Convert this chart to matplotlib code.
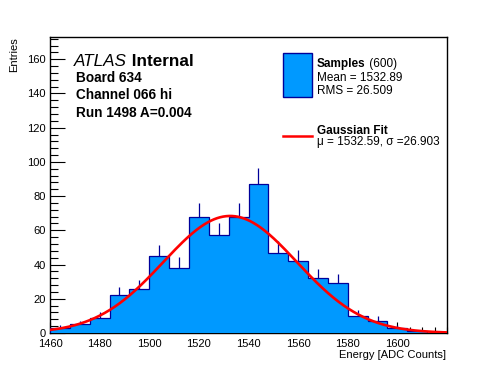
import numpy as np
import matplotlib
matplotlib.use("Agg")
import matplotlib.pyplot as plt
from matplotlib.patches import Rectangle
from matplotlib.lines import Line2D
from matplotlib.ticker import MultipleLocator, FixedLocator

plt.rcParams['font.family'] = ['Liberation Sans', 'DejaVu Sans']

# histogram data (bins of 8 ADC counts)
bin_edges = np.arange(1460, 1621, 8)
counts = [3, 5, 9, 22, 26, 45, 38, 68, 57, 68, 87, 47, 42, 32, 29, 10, 7, 3, 1, 0]

# gaussian fit parameters
fit_const = 68.4
fit_mean = 1532.59
fit_sigma = 26.903

x_ticks = [1460, 1480, 1500, 1520, 1540, 1560, 1580, 1600]
board_lines = ["Board 634", "Channel 066 hi", "Run 1498 A=0.004"]

W, H = 496, 372
fill_col = '#0099ff'
edge_col = '#000099'

fig = plt.figure(figsize=(W / 100, H / 100), dpi=100)
ax = fig.add_axes([50 / W, 1 - 333 / H, 397 / W, 296 / H])

counts = np.array(counts, dtype=float)
centers = 0.5 * (bin_edges[:-1] + bin_edges[1:])

# errors (only the part above the bin is visible)
err = np.sqrt(counts)
ax.vlines(centers, counts, counts + err, color=edge_col, lw=0.9, zorder=2)
ax.stairs(counts, bin_edges, fill=True, color=fill_col, zorder=3)
ax.stairs(counts, bin_edges, color=edge_col, lw=0.9, zorder=4)

xf = np.linspace(1460, 1620, 400)
yf = fit_const * np.exp(-0.5 * ((xf - fit_mean) / fit_sigma) ** 2)
ax.plot(xf, yf, color='red', lw=1.9, zorder=5)

ax.set_xlim(1460, 1620)
ax.set_ylim(0, 173)
ax.xaxis.set_major_locator(FixedLocator(x_ticks))
ax.xaxis.set_minor_locator(MultipleLocator(5))
ax.yaxis.set_major_locator(MultipleLocator(20))
ax.yaxis.set_minor_locator(MultipleLocator(4))
ax.tick_params(which='both', direction='in', top=False, right=False,
               labelsize=8, width=0.8, color='black')
ax.tick_params(axis='x', which='major', length=8, pad=4)
ax.tick_params(axis='x', which='minor', length=4)
ax.tick_params(axis='y', which='major', length=11, pad=3)
ax.tick_params(axis='y', which='minor', length=5.5)
for s in ax.spines.values():
    s.set_linewidth(1.0)

fig.text(446 / W, 1 - 358 / H, "Energy [ADC Counts]", ha='right', va='baseline', fontsize=8)
fig.text(17 / W, 1 - 37 / H, "Entries", ha='right', va='baseline', rotation=90,
         rotation_mode='anchor', fontsize=8)

# ATLAS label
t = fig.text(74 / W, 1 - 66 / H, "ATLAS", style='italic', fontsize=12.3, va='baseline')
ax.annotate(" Internal", xy=(1, 0), xycoords=t, va='bottom', fontsize=12.3,
            fontweight='bold', annotation_clip=False)
for txt, yb in zip(board_lines, [81.6, 99.2, 116.6]):
    fig.text(76 / W, 1 - yb / H, txt, fontsize=9.8, fontweight='bold', va='baseline')

# legend
fig.add_artist(Rectangle((283 / W, 1 - 97 / H), 28.5 / W, 44 / H, transform=fig.transFigure,
                         facecolor=fill_col, edgecolor=edge_col, lw=1.0))
fig.add_artist(Line2D([283 / W, 311.5 / W], [1 - 136 / H, 1 - 136 / H],
                      transform=fig.transFigure, color='red', lw=1.8))
t2 = fig.text(317 / W, 1 - 67 / H, "Samples", fontsize=8.5, fontweight='bold', va='baseline')
ax.annotate(" (600)", xy=(1, 0), xycoords=t2, va='bottom', fontsize=8.5, annotation_clip=False)
fig.text(317 / W, 1 - 81 / H, "Mean = 1532.89", fontsize=8.5, va='baseline')
fig.text(317 / W, 1 - 94.3 / H, "RMS = 26.509", fontsize=8.5, va='baseline')
fig.text(317 / W, 1 - 133.6 / H, "Gaussian Fit", fontsize=8.5, fontweight='bold', va='baseline')
fig.text(317 / W, 1 - 145 / H, "\u03bc = %.2f, \u03c3 =%.3f" % (fit_mean, fit_sigma),
         fontsize=8.5, va='baseline')

fig.savefig("out.png", dpi=100)
